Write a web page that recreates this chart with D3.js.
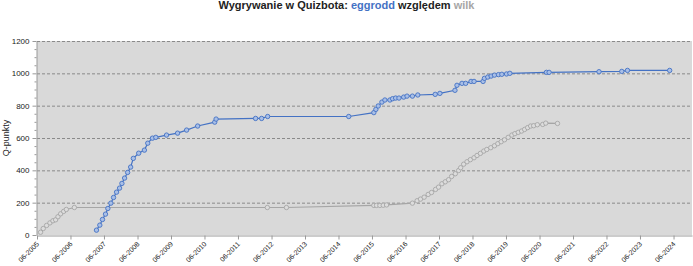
<!DOCTYPE html>
<html>
<head>
<meta charset="utf-8">
<script src="https://cdn.jsdelivr.net/npm/d3@7"></script>
<style>
  body { margin: 0; background: #fff; }
  svg { display: block; font-family: "Liberation Sans", Arial, sans-serif; }
  .grid line { stroke: #8a8a8a; stroke-dasharray: 3,2; }
  .axis path, .axis line { stroke: #999; }
  .axis text { fill: #222; }
</style>
</head>
<body>
<script>
var w = 693;
var h = 266;
var margin = {top: 41, right: 1, bottom: 31, left: 37};
var width = w - margin.left - margin.right;
var height = h - margin.top - margin.bottom;

// dates
var eggroddYears = [2007.19, 2007.29, 2007.37, 2007.46, 2007.53, 2007.62, 2007.70, 2007.79, 2007.88, 2007.95,
  2008.03, 2008.12, 2008.21, 2008.29, 2008.45, 2008.62, 2008.72, 2008.86, 2008.96, 2009.28,
  2009.61, 2009.88, 2010.21, 2010.72, 2010.76, 2011.94, 2012.12, 2012.30, 2014.72, 2015.47,
  2015.53, 2015.60, 2015.71, 2015.80, 2015.95, 2016.03, 2016.12, 2016.22, 2016.36, 2016.46,
  2016.62, 2016.78, 2017.30, 2017.44, 2017.89, 2017.95, 2018.10, 2018.21, 2018.37, 2018.46,
  2018.73, 2018.77, 2018.87, 2018.97, 2019.07, 2019.19, 2019.29, 2019.43, 2019.53, 2020.62,
  2020.70, 2022.19, 2022.87, 2023.04, 2024.30];
var eggroddValues = [30, 61, 96, 129, 164, 197, 232, 265, 290, 319,
  352, 387, 420, 474, 506, 525, 568, 599, 604, 618,
  630, 649, 674, 698, 717, 721, 721, 733, 733, 757,
  777, 798, 822, 835, 835, 843, 847, 847, 853, 859,
  859, 866, 870, 876, 895, 926, 938, 938, 950, 950,
  950, 969, 977, 983, 989, 992, 994, 996, 1000, 1006,
  1006, 1010, 1012, 1018, 1018];

var wilkYears = [2005.52, 2005.60, 2005.70, 2005.80, 2005.89, 2005.97, 2006.04, 2006.12, 2006.21, 2006.29,
  2006.53, 2012.29, 2012.86, 2015.47, 2015.55, 2015.65, 2015.75, 2015.85, 2016.62, 2016.76,
  2016.86, 2016.97, 2017.09, 2017.19, 2017.31, 2017.40, 2017.50, 2017.60, 2017.70, 2017.79,
  2017.90, 2018.00, 2018.06, 2018.15, 2018.25, 2018.35, 2018.46, 2018.55, 2018.65, 2018.75,
  2018.84, 2018.96, 2019.07, 2019.17, 2019.27, 2019.37, 2019.48, 2019.59, 2019.68, 2019.78,
  2019.88, 2019.97, 2020.06, 2020.15, 2020.24, 2020.35, 2020.51, 2020.60, 2020.95];
var wilkValues = [17, 40, 59, 75, 88, 94, 113, 131, 146, 158,
  170, 170, 170, 183, 183, 183, 184, 186, 197, 212,
  222, 234, 251, 263, 282, 296, 317, 329, 342, 362,
  379, 399, 416, 438, 453, 466, 478, 492, 505, 519,
  529, 540, 552, 565, 577, 589, 604, 618, 627, 635,
  643, 653, 664, 674, 676, 682, 684, 692, 690];

var yTicks = [0, 200, 400, 600, 800, 1000, 1200];
var tickYears = d3.range(2005, 2025);

var blue = "#4472c4";
var grey = "#a6a6a6";

// decimal year -> Date
var toDate = (y) => {
  var yr = Math.floor(y);
  var start = new Date(yr, 0, 1);
  var end = new Date(yr + 1, 0, 1);
  return new Date(start.getTime() + (y - yr) * (end - start));
};

var series = [
  {name: "wilk", color: grey, fill: "#dcdcdc", data: wilkYears.map((y, i) => ({date: toDate(y), value: wilkValues[i]}))},
  {name: "eggrodd", color: blue, fill: "#a9bfe6", data: eggroddYears.map((y, i) => ({date: toDate(y), value: eggroddValues[i]}))}
];

var x = d3.scaleTime()
  .domain([new Date(2005, 5, 1), toDate(2024.965)])
  .range([0, width]);

var y = d3.scaleLinear()
  .domain([0, 1200])
  .range([height, 0]);

var svg = d3.select("body").append("svg")
  .attr("width", w)
  .attr("height", h);

// title
var title = svg.append("text")
  .attr("x", w / 2)
  .attr("y", 9)
  .attr("text-anchor", "middle")
  .style("font-size", "11px")
  .style("font-weight", "bold")
  .attr("fill", "#222");
title.append("tspan").text("Wygrywanie w Quizbota: ");
title.append("tspan").attr("fill", blue).text("eggrodd");
title.append("tspan").text(" względem ");
title.append("tspan").attr("fill", grey).text("wilk");

var chart = svg.append("g")
  .attr("transform", "translate(" + margin.left + "," + margin.top + ")");

chart.append("rect")
  .attr("width", width)
  .attr("height", height)
  .attr("fill", "#d9d9d9");

chart.append("g")
  .classed("grid", true)
  .selectAll("line")
  .data(yTicks.filter((d) => d > 0))
  .enter()
    .append("line")
    .attr("x1", 0)
    .attr("x2", width)
    .attr("y1", (d) => y(d) + 0.5)
    .attr("y2", (d) => y(d) + 0.5);

// y axis with minor ticks
var yAxis = chart.append("g")
  .classed("axis", true)
  .attr("transform", "translate(-0.5,0)")
  .call(d3.axisLeft(y).tickValues(yTicks).tickFormat(d3.format("d")).tickSize(4).tickSizeOuter(0));
yAxis.selectAll("text").style("font-size", "8px").attr("x", -7);
yAxis.append("g")
  .selectAll("line")
  .data(d3.range(0, 1201, 50).filter((d) => d % 200 !== 0))
  .enter()
    .append("line")
    .attr("x1", -2)
    .attr("x2", 0)
    .attr("y1", (d) => y(d) + 0.5)
    .attr("y2", (d) => y(d) + 0.5)
    .attr("stroke", "#999");

var xAxis = chart.append("g")
  .classed("axis", true)
  .attr("transform", "translate(0," + (height + 0.5) + ")")
  .call(d3.axisBottom(x)
    .tickValues(tickYears.map((yr) => new Date(yr, 5, 1)))
    .tickFormat(d3.timeFormat("%m-%Y"))
    .tickSize(4)
    .tickSizeOuter(0));
xAxis.selectAll("text")
  .style("font-size", "7px")
  .attr("text-anchor", "end")
  .attr("dy", null)
  .attr("y", 0)
  .attr("transform", "translate(2,9) rotate(-45)");

svg.append("text")
  .attr("transform", "translate(9," + (margin.top + height / 2) + ") rotate(-90)")
  .attr("text-anchor", "middle")
  .style("font-size", "9px")
  .attr("fill", "#222")
  .text("Q-punkty");

var line = d3.line()
  .x((d) => x(d.date))
  .y((d) => y(d.value));

series.forEach((s) => {
  chart.append("path")
    .datum(s.data)
    .attr("fill", "none")
    .attr("stroke", s.color)
    .attr("stroke-width", 1.2)
    .attr("d", line);

  chart.selectAll(".pt-" + s.name)
    .data(s.data)
    .enter()
      .append("circle")
      .classed("pt-" + s.name, true)
      .attr("cx", (d) => x(d.date))
      .attr("cy", (d) => y(d.value))
      .attr("r", 2.2)
      .attr("fill", s.fill)
      .attr("stroke", s.color)
      .attr("stroke-width", 0.9);
});
</script>
</body>
</html>
